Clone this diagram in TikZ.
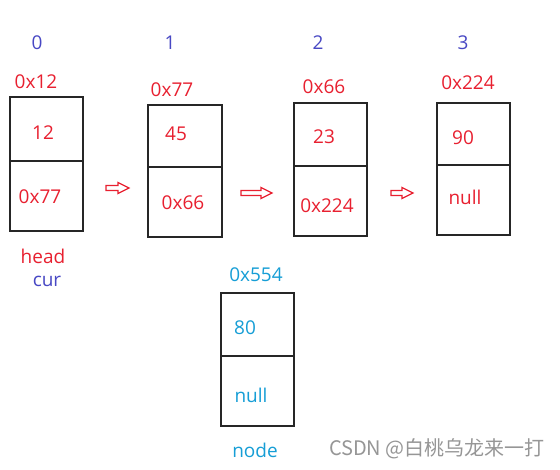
\documentclass[tikz,border=0pt]{standalone}
\usepackage{fontspec}
\setmainfont{Open Sans}
\newfontfamily\cjkfont{Noto Sans CJK SC}
\definecolor{lred}{RGB}{232,32,48}
\definecolor{lblue}{RGB}{72,72,196}
\definecolor{lcyan}{RGB}{22,158,214}
\definecolor{wgray}{RGB}{150,150,150}
\begin{document}
\begin{tikzpicture}[x=1pt,y=-1pt,
  cell/.style={draw=black!85,line width=1.6pt},
  lab/.style={inner sep=0pt,font=\fontsize{19}{22}\selectfont},
  rl/.style={lab,text=lred},
  bl/.style={lab,text=lblue},
  cl/.style={lab,text=lcyan},
  harrow/.style={draw=lred,line width=1.3pt,fill=white,line join=miter}]
\useasboundingbox[fill=white] (0,0) rectangle (560,469);
% boxes
\draw[cell] (10,97) rectangle (83,161) (10,161) rectangle (83,231);
\draw[cell] (148,105) rectangle (222,167) (148,167) rectangle (222,237);
\draw[cell] (294,103) rectangle (367,166) (294,166) rectangle (367,236);
\draw[cell] (437,103) rectangle (510,165) (437,165) rectangle (510,235);
\draw[cell] (221,293) rectangle (294,356) (221,356) rectangle (294,426);
% indices
\node[bl] (i0) at (37,43) {0};
\node[bl] (i1) at (170,43) {1};
\node[bl] (i2) at (318,43) {2};
\node[bl] (i3) at (463,43) {3};
% addresses
\node[rl] (a0) at (36,82) {0x12};
\node[rl] (a1) at (172,90) {0x77};
\node[rl] (a2) at (324,87) {0x66};
\node[rl] (a3) at (468,83) {0x224};
\node[cl] (a4) at (256,275) {0x554};
% contents
\node[rl] (d0) at (43,133) {12};
\node[rl] (n0) at (40,197) {0x77};
\node[rl] (d1) at (176,134) {45};
\node[rl] (n1) at (183,203) {0x66};
\node[rl] (d2) at (324,137) {23};
\node[rl] (n2) at (327,206) {0x224};
\node[rl] (d3) at (463,138) {90};
\node[rl] (n3) at (465,197) {null};
\node[cl] (d4) at (245,328) {80};
\node[cl] (n4) at (251,395) {null};
% pointer names
\node[rl] (head) at (43,256) {head};
\node[bl] (cur) at (47,281) {cur};
\node[cl] (nd) at (255,450) {node};
% hollow arrows
\foreach \x/\y/\l in {106/188/23, 241/193/31, 391/193/22}{
  \draw[harrow] (\x,\y-2.5) -- ++(\l-11,0) -- ++(0,-3) -- (\x+\l,\y) -- (\x+\l-11,\y+5.5) -- ++(0,-3) -- (\x,\y+2.5) -- cycle;
}
% watermark
\node[inner sep=0pt,text=wgray,font=\fontsize{20}{24}\selectfont\cjkfont,anchor=east] (wm) at (545,449) {CSDN @白桃乌龙来一打};
\end{tikzpicture}
\end{document}
